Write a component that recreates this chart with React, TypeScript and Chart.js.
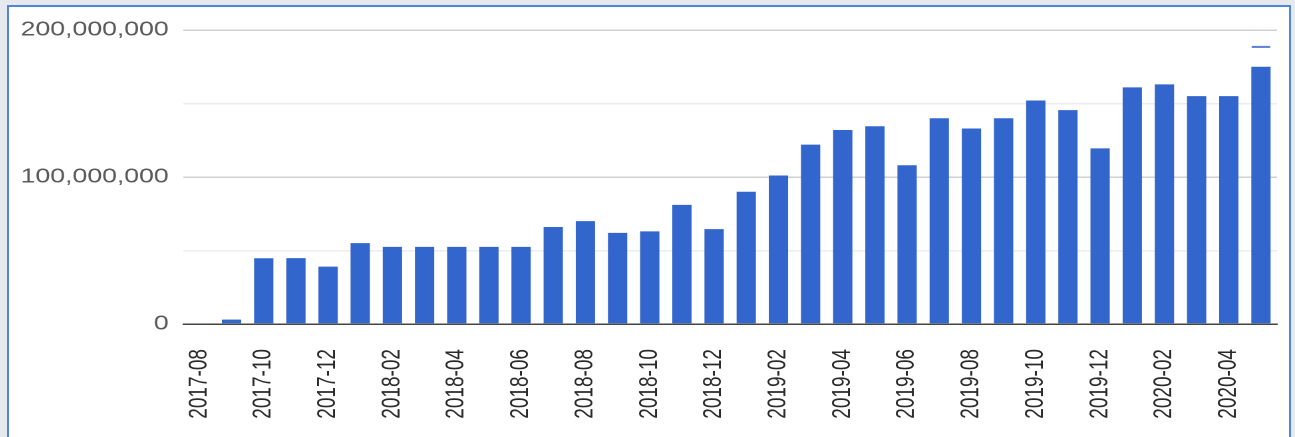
import React, { useEffect, useRef } from "react";
import { Chart, registerables } from "chart.js";

Chart.register(...registerables);

const months: string[] = [
  "2017-08", "2017-09", "2017-10", "2017-11", "2017-12",
  "2018-01", "2018-02", "2018-03", "2018-04", "2018-05", "2018-06",
  "2018-07", "2018-08", "2018-09", "2018-10", "2018-11", "2018-12",
  "2019-01", "2019-02", "2019-03", "2019-04", "2019-05", "2019-06",
  "2019-07", "2019-08", "2019-09", "2019-10", "2019-11", "2019-12",
  "2020-01", "2020-02", "2020-03", "2020-04", "2020-05",
];

const values: number[] = [
  0, 3000000, 44700000, 44800000, 39000000,
  55000000, 52500000, 52500000, 52500000, 52500000, 52500000,
  66000000, 70000000, 62000000, 63000000, 81000000, 64500000,
  90000000, 101000000, 122000000, 132000000, 134500000, 108000000,
  140000000, 133000000, 140000000, 152000000, 145500000, 119500000,
  161000000, 163000000, 155000000, 155000000, 175000000,
];

const markerValues: (number | null)[] = months.map((_, i) =>
  i === months.length - 1 ? 188500000 : null
);

const yTicks: number[] = [0, 100000000, 200000000];

const STRETCH = 1.33;
const CSS_W = 1280;
const CSS_H = 430;
const CANVAS_W = Math.round(CSS_W / STRETCH);

export default function App() {
  const ref = useRef<HTMLCanvasElement | null>(null);

  useEffect(() => {
    if (!ref.current) return;
    const chart = new Chart(ref.current, {
      type: "bar",
      data: {
        labels: months,
        datasets: [
          {
            type: "bar",
            data: values,
            backgroundColor: "#3366cc",
            barPercentage: 0.6,
            categoryPercentage: 1,
            order: 2,
          },
          {
            type: "line",
            data: markerValues,
            showLine: false,
            pointStyle: "line",
            pointRadius: 7,
            borderColor: "#5a7fd6",
            borderWidth: 2,
            order: 1,
          } as any,
        ],
      },
      options: {
        animation: false,
        responsive: false,
        maintainAspectRatio: false,
        devicePixelRatio: 2,
        layout: { padding: { top: 22, right: -4, left: 0, bottom: 0 } },
        plugins: { legend: { display: false }, tooltip: { enabled: false } },
        scales: {
          x: {
            grid: { display: false, drawTicks: false },
            border: { color: "#444", width: 1.5 },
            ticks: {
              autoSkip: false,
              minRotation: 90,
              maxRotation: 90,
              padding: 25,
              color: "#2a2a2a",
              font: { family: "Arial, 'Liberation Sans'", size: 19 },
              callback: (_v: any, i: number) => (i % 2 === 0 ? months[i] : ""),
            },
            afterFit: (s: any) => {
              s.height = 113;
              s.paddingLeft = 0;
              s.paddingRight = 0;
            },
          },
          y: {
            min: 0,
            max: 200000000,
            border: { display: false },
            grid: {
              drawTicks: false,
              color: (ctx: any) =>
                ctx.tick && yTicks.includes(ctx.tick.value) ? "#d0d0d0" : "#ededed",
              lineWidth: 1.5,
            },
            ticks: {
              stepSize: 50000000,
              padding: 11,
              color: "#5a5a5a",
              font: { family: "Arial, 'Liberation Sans'", size: 20 },
              callback: (v: any) =>
                yTicks.includes(Number(v)) ? Number(v).toLocaleString("en-US") : "",
            },
            afterFit: (s: any) => {
              s.width = Math.round(174 / STRETCH);
            },
          },
        },
      },
    });
    return () => chart.destroy();
  }, []);

  return (
    <div
      style={{
        position: "absolute",
        left: 0,
        top: 0,
        width: 1295,
        height: 437,
        background: "#e6eaef",
        overflow: "hidden",
      }}
    >
      <div
        style={{
          position: "absolute",
          left: 7,
          top: 5,
          width: 1284,
          height: 440,
          border: "2px solid #4f86d9",
          background: "#ffffff",
          boxSizing: "border-box",
        }}
      />
      <canvas
        ref={ref}
        width={CANVAS_W}
        height={CSS_H}
        style={{
          position: "absolute",
          left: 9,
          top: 7,
          width: CSS_W,
          height: CSS_H,
        }}
      />
    </div>
  );
}
